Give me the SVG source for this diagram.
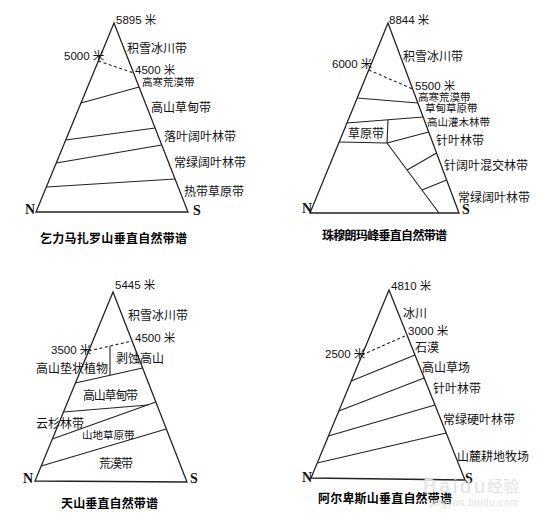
<svg xmlns="http://www.w3.org/2000/svg" width="550" height="524" viewBox="0 0 550 524">
<style>
.bg{fill:#fff}
.tri{fill:none;stroke:#222;stroke-width:1.3;stroke-linejoin:miter}
.ln{fill:none;stroke:#222;stroke-width:1.1}
.ds{fill:none;stroke:#222;stroke-width:1.1;stroke-dasharray:3,2.5}
.lb{font-family:"Noto Sans CJK SC","Noto Sans CJK JP",sans-serif;font-size:12px;fill:#111}
.sm{font-size:10.5px}
.nm{font-family:"Liberation Sans","Noto Sans CJK SC",sans-serif;font-size:11.5px;fill:#111}
.ns{font-family:"Liberation Serif",serif;font-weight:bold;font-size:14px;fill:#111}
.tt{font-family:"Noto Sans CJK SC",sans-serif;font-weight:bold;font-size:12px;fill:#000}
.wm{font-family:"Liberation Sans","Noto Sans CJK SC",sans-serif;fill:#e2e2e2}
</style>
<rect class="bg" x="0" y="0" width="550" height="524"/>

<g id="kilimanjaro">
<g id="kili-connectors">
<polygon class="tri" points="114,23 36,212 188,212"/>
<line class="ds" x1="98.3" y1="61" x2="133.6" y2="73"/>
<line class="ln" x1="81" y1="103" x2="139.1" y2="87"/>
<line class="ln" x1="65.7" y1="140" x2="155.1" y2="128"/>
<line class="ln" x1="56.2" y1="163" x2="161.8" y2="145"/>
<line class="ln" x1="46.3" y1="187" x2="175.1" y2="179"/>
</g>
<text class="nm" x="116" y="24">5895 米</text>
<text class="lb" x="127" y="52.5">积雪冰川带</text>
<text class="nm" x="64" y="60">5000 米</text>
<text class="nm" x="135" y="74">4500 米</text>
<text class="lb sm" x="142" y="86">高寒荒漠带</text>
<text class="lb" x="151" y="111.5">高山草甸带</text>
<text class="lb" x="164" y="140.5">落叶阔叶林带</text>
<text class="lb" x="174" y="166.5">常绿阔叶林带</text>
<text class="lb" x="184" y="195.5">热带草原带</text>
<text class="ns" x="25" y="214">N</text>
<text class="ns" x="193" y="214.5">S</text>
<text class="tt" x="40" y="242.5" textLength="147">乞力马扎罗山垂直自然带谱</text>
</g>

<g id="everest">
<g id="everest-connectors">
<polygon class="tri" points="388,23 310,213 459,213"/>
<line class="ds" x1="368.7" y1="70" x2="412.7" y2="89"/>
<line class="ln" x1="357.2" y1="98" x2="417.9" y2="103"/>
<line class="ln" x1="346.9" y1="123" x2="423.1" y2="117"/>
<line class="ln" x1="388" y1="120" x2="387" y2="143"/>
<line class="ln" x1="339.1" y1="142" x2="387" y2="143"/>
<line class="ln" x1="387" y1="143" x2="439" y2="213"/>
<line class="ln" x1="387" y1="143" x2="428.7" y2="132"/>
<line class="ln" x1="407.1" y1="170" x2="436.6" y2="153"/>
<line class="ln" x1="421.9" y1="190" x2="446.7" y2="180"/>
</g>
<text class="nm" x="389" y="24">8844 米</text>
<text class="lb" x="403" y="60.5">积雪冰川带</text>
<text class="nm" x="332" y="68">6000 米</text>
<text class="nm" x="415" y="89.5">5500 米</text>
<text class="lb sm" x="418" y="101">高寒荒漠带</text>
<text class="lb sm" x="425" y="112">草甸草原带</text>
<text class="lb sm" x="427" y="126">高山灌木林带</text>
<text class="lb" x="348" y="137.5">草原带</text>
<text class="lb" x="436" y="144.5">针叶林带</text>
<text class="lb" x="444" y="169.5">针阔叶混交林带</text>
<text class="lb" x="458" y="201.5">常绿阔叶林带</text>
<text class="ns" x="302" y="213">N</text>
<text class="ns" x="462" y="214">S</text>
<text class="tt" x="322" y="239.5" textLength="125">珠穆朗玛峰垂直自然带谱</text>
</g>

<g id="tianshan">
<g id="tianshan-connectors">
<polygon class="tri" points="113,292 35,481 187,482"/>
<line class="ds" x1="88.7" y1="351" x2="132.1" y2="341"/>
<line class="ln" x1="110" y1="346.2" x2="110" y2="375.3"/>
<line class="ln" x1="75.4" y1="383" x2="142.6" y2="368"/>
<line class="ln" x1="63.5" y1="412" x2="148" y2="405"/>
<line class="ln" x1="52.3" y1="439" x2="155.8" y2="402"/>
<line class="ln" x1="41.2" y1="466" x2="166.3" y2="429"/>
</g>
<text class="nm" x="115" y="289">5445 米</text>
<text class="lb" x="128" y="319.5">积雪冰川带</text>
<text class="nm" x="135" y="342">4500 米</text>
<text class="nm" x="51" y="354">3500 米</text>
<text class="lb" x="116" y="362.5">剥蚀高山</text>
<text class="lb" x="36" y="372.5">高山垫状植物</text>
<text class="lb" x="83" y="399.5" textLength="55">高山草甸带</text>
<text class="lb" x="36" y="427.5">云杉林带</text>
<text class="lb sm" x="82" y="439">山地草原带</text>
<text class="lb" x="99" y="467.5" textLength="34">荒漠带</text>
<text class="ns" x="23" y="483">N</text>
<text class="ns" x="190" y="483">S</text>
<text class="tt" x="61" y="507.5" textLength="97">天山垂直自然带谱</text>
</g>

<g id="alps">
<g id="alps-connectors">
<polygon class="tri" points="389,290 311,478 465,480"/>
<line class="ds" x1="362" y1="355" x2="407" y2="335"/>
<line class="ln" x1="351.2" y1="381" x2="415" y2="355"/>
<line class="ln" x1="338.8" y1="411" x2="424.2" y2="378"/>
<line class="ln" x1="328.4" y1="436" x2="435" y2="405"/>
<line class="ln" x1="317.2" y1="463" x2="446.2" y2="433"/>
</g>
<text class="nm" x="391" y="290">4810 米</text>
<text class="lb" x="403" y="317.5">冰川</text>
<text class="nm" x="408" y="335">3000 米</text>
<text class="lb" x="415" y="351.5">石漠</text>
<text class="nm" x="325" y="358">2500 米</text>
<text class="lb" x="422" y="371.5">高山草场</text>
<text class="lb" x="433" y="392.5">针叶林带</text>
<text class="lb" x="443" y="423.5">常绿硬叶林带</text>
<text class="lb" x="457" y="460.5">山麓耕地牧场</text>
<text class="ns" x="302" y="482">N</text>
<text class="ns" x="465" y="483">S</text>
<text class="tt" x="318" y="502.5" textLength="134">阿尔卑斯山垂直自然带谱</text>
</g>

<g id="watermark">
<text class="wm" x="423" y="493" font-size="20" textLength="62">Baidu</text>
<text class="wm" x="487" y="492" font-size="16">经验</text>
<text class="wm" x="430" y="506" font-size="10" textLength="88">jingyan.baidu.com</text>
</g>
</svg>
